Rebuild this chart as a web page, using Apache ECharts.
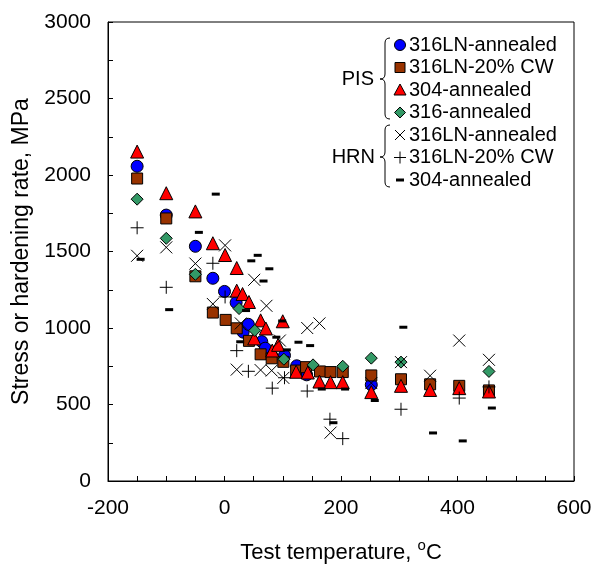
<!DOCTYPE html>
<html>
<head>
<meta charset="utf-8">
<script src="https://cdn.jsdelivr.net/npm/echarts@6/dist/echarts.min.js"></script>
<style>
html, body { margin: 0; padding: 0; background: #fff; }
#chart { width: 597px; height: 569px; }
</style>
</head>
<body>
<div id="chart"></div>
<script>
// PIS data (stress), [temperature C, MPa]
var pis316LNann = [[-150,2057],[-100,1738],[-50,1534],[-20,1325],[0,1239],[20,1166],[32,973],[41,1024],
  [64,911],[70,868],[103,821],[124,753],[141,694],[252,629]];
var pis316LNcw = [[-150,1977],[-100,1716],[-50,1338],[-20,1101],[2,1053],[21,998],[42,916],[62,828],
  [81,802],[101,779],[123,722],[140,744],[164,716],[182,712],[203,712],[252,690],[303,665],[353,632],[403,622],[454,592]];
var pis304ann = [[-150,2153],[-100,1881],[-50,1762],[-20,1554],[1,1477],[21,1392],[21,1244],[31,1222],[42,1170],
  [51,932],[62,1050],[71,997],[82,853],[92,890],[100,1044],[123,714],[143,709],[163,650],[182,646],[203,646],
  [252,581],[303,622],[353,595],[403,607],[454,585]];
var pis316ann = [[-150,1842],[-100,1586],[-50,1351],[25,1127],[52,984],[102,796],[152,759],[203,750],
  [252,803],[303,777],[454,716]];
// HRN data (hardening rate)
var hrn316LNann = [[-150,1472],[-100,1527],[-50,1421],[-20,1157],[1,1540],[28,1030],[21,728],[51,1315],
  [62,725],[72,1145],[81,722],[95,918],[101,674],[142,1000],[163,1030],[182,316],[252,640],[303,777],
  [353,688],[403,918],[454,792]];
var hrn316LNcw = [[-150,1655],[-100,1266],[-20,1423],[1,1203],[21,852],[41,717],[82,607],[103,675],
  [142,588],[181,404],[203,277],[303,469],[403,542],[454,615]];
var hrn304ann = [[-144,1449],[-95,1120],[-44,1625],[-15,1875],[27,910],[37,1114],[46,1439],[57,1475],
  [67,1307],[77,1387],[89,940],[99,1046],[107,857],[127,907],[147,885],[167,601],[187,381],[207,601],
  [258,526],[307,1005],[358,314],[409,262],[459,477]];

var pisNames = ['316LN-annealed', '316LN-20% CW', '304-annealed', '316-annealed'];
var hrnNames = ['316LN-annealed', '316LN-20% CW', '304-annealed'];

var FONT = "'Liberation Sans', Arial, Helvetica, sans-serif";
var X_PATH = 'path://M0,0L10,10M10,0L0,10';
var PLUS_PATH = 'path://M5,0L5,10M0,5L10,5';

var chart = echarts.init(document.getElementById('chart'));

function filled(name, data, symbol, size, color) {
  return {
    name: name, type: 'scatter', data: data, symbol: symbol, symbolSize: size,
    itemStyle: { color: color, borderColor: '#000', borderWidth: 1, opacity: 1 },
    emphasis: { disabled: true }
  };
}
function stroked(name, data, symbol, size) {
  return {
    name: name, type: 'scatter', data: data, symbol: symbol, symbolSize: size,
    itemStyle: { color: 'none', borderColor: '#000', borderWidth: 1, opacity: 1 },
    emphasis: { disabled: true }
  };
}

// legend drawn by hand (grouped with braces)
var lgX = 400, lgTextX = 409, lgY0 = 45, lgStep = 22.5;
var legendEls = [];
var black = { stroke: '#000', lineWidth: 1, fill: 'none' };
function rowY(i) { return lgY0 + i * lgStep; }
function addText(str, x, y, align) {
  legendEls.push({ type: 'text', x: x, y: y, style: { text: str, font: '20px ' + FONT, fill: '#000',
    align: align || 'left', verticalAlign: 'middle' } });
}
pisNames.concat(hrnNames).forEach(function (n, i) { addText(n, lgTextX, rowY(i)); });
var y;
y = rowY(0); legendEls.push({ type: 'circle', shape: { cx: lgX, cy: y, r: 5.5 }, style: { fill: '#0000FF', stroke: '#000', lineWidth: 1 } });
y = rowY(1); legendEls.push({ type: 'rect', shape: { x: lgX - 5, y: y - 5, width: 10, height: 10 }, style: { fill: '#993300', stroke: '#000', lineWidth: 1 } });
y = rowY(2); legendEls.push({ type: 'polygon', shape: { points: [[lgX, y - 6], [lgX + 6, y + 5], [lgX - 6, y + 5]] }, style: { fill: '#FF0000', stroke: '#000', lineWidth: 1 } });
y = rowY(3); legendEls.push({ type: 'polygon', shape: { points: [[lgX, y - 5.5], [lgX + 5.5, y], [lgX, y + 5.5], [lgX - 5.5, y]] }, style: { fill: '#339966', stroke: '#000', lineWidth: 1 } });
y = rowY(4);
legendEls.push({ type: 'line', shape: { x1: lgX - 5, y1: y - 5, x2: lgX + 5, y2: y + 5 }, style: black });
legendEls.push({ type: 'line', shape: { x1: lgX - 5, y1: y + 5, x2: lgX + 5, y2: y - 5 }, style: black });
y = rowY(5);
legendEls.push({ type: 'line', shape: { x1: lgX - 6, y1: y, x2: lgX + 6, y2: y }, style: black });
legendEls.push({ type: 'line', shape: { x1: lgX, y1: y - 6, x2: lgX, y2: y + 6 }, style: black });
y = rowY(6); legendEls.push({ type: 'rect', shape: { x: lgX - 4, y: y - 1.5, width: 8, height: 3 }, style: { fill: '#000' } });

function brace(xTip, xEnd, y0, y1, ym) {
  var xm = (xTip + xEnd) / 2, r = 5;
  var segs = [
    { type: 'bezierCurve', shape: { x1: xEnd, y1: y0, cpx1: xm, cpy1: y0, x2: xm, y2: y0 + r } },
    { type: 'line', shape: { x1: xm, y1: y0 + r, x2: xm, y2: ym - r } },
    { type: 'bezierCurve', shape: { x1: xm, y1: ym - r, cpx1: xm, cpy1: ym, x2: xTip, y2: ym } },
    { type: 'bezierCurve', shape: { x1: xTip, y1: ym, cpx1: xm, cpy1: ym, x2: xm, y2: ym + r } },
    { type: 'line', shape: { x1: xm, y1: ym + r, x2: xm, y2: y1 - r } },
    { type: 'bezierCurve', shape: { x1: xm, y1: y1 - r, cpx1: xm, cpy1: y1, x2: xEnd, y2: y1 } }
  ];
  segs.forEach(function (s) { s.style = black; legendEls.push(s); });
}
brace(380, 390, 38, 119, 79);
brace(380, 390, 125, 187, 157);
addText('PIS', 374, 79, 'right');
addText('HRN', 375, 157, 'right');

var option = {
  animation: false,
  backgroundColor: '#fff',
  textStyle: { fontFamily: FONT },
  grid: { left: 108, right: 23, top: 22, bottom: 87, show: true, borderColor: '#000', borderWidth: 1 },
  xAxis: {
    type: 'value', min: -200, max: 600, interval: 200,
    name: '{a|Test temperature, }{sup|o}{a|C}', nameLocation: 'middle', nameGap: 57,
    nameTextStyle: { fontSize: 22, color: '#000', fontFamily: FONT,
      rich: {
        a: { fontSize: 22, lineHeight: 30, color: '#000', fontFamily: FONT },
        sup: { fontSize: 15, verticalAlign: 'top', color: '#000', fontFamily: FONT }
      } },
    axisLine: { show: true, onZero: false, lineStyle: { color: '#000', width: 1 } },
    axisTick: { show: true, inside: true, length: 5, lineStyle: { color: '#000' } },
    minorTick: { show: true, splitNumber: 4, length: 5, lineStyle: { color: '#000' } },
    axisLabel: { fontSize: 21, color: '#000', margin: 17, fontFamily: FONT },
    splitLine: { show: false }
  },
  yAxis: {
    type: 'value', min: 0, max: 3000, interval: 500,
    name: 'Stress or hardening rate, MPa', nameLocation: 'middle', nameGap: 55,
    nameTextStyle: { fontSize: 23, color: '#000', fontFamily: FONT },
    axisLine: { show: true, onZero: false, lineStyle: { color: '#000', width: 1 } },
    axisTick: { show: true, inside: true, length: 5, lineStyle: { color: '#000' } },
    minorTick: { show: true, splitNumber: 2, length: 5, lineStyle: { color: '#000' } },
    axisLabel: { fontSize: 21, color: '#000', margin: 17, fontFamily: FONT,
      formatter: function (v) { return String(v); } },
    splitLine: { show: false }
  },
  series: [
    filled('PIS 316LN-annealed', pis316LNann, 'circle', 12, '#0000FF'),
    filled('PIS 316LN-20% CW', pis316LNcw, 'rect', 11, '#993300'),
    filled('PIS 304-annealed', pis304ann, 'triangle', 13, '#FF0000'),
    filled('PIS 316-annealed', pis316ann, 'diamond', 12, '#339966'),
    stroked('HRN 316LN-annealed', hrn316LNann, X_PATH, 12),
    stroked('HRN 316LN-20% CW', hrn316LNcw, PLUS_PATH, 13),
    filled('HRN 304-annealed', hrn304ann, 'rect', [8, 3], '#000')
  ],
  graphic: [{ type: 'group', silent: true, children: legendEls }]
};
option.series[6].itemStyle.borderWidth = 0;

chart.setOption(option);
window.addEventListener('resize', function () { chart.resize(); });
</script>
</body>
</html>
